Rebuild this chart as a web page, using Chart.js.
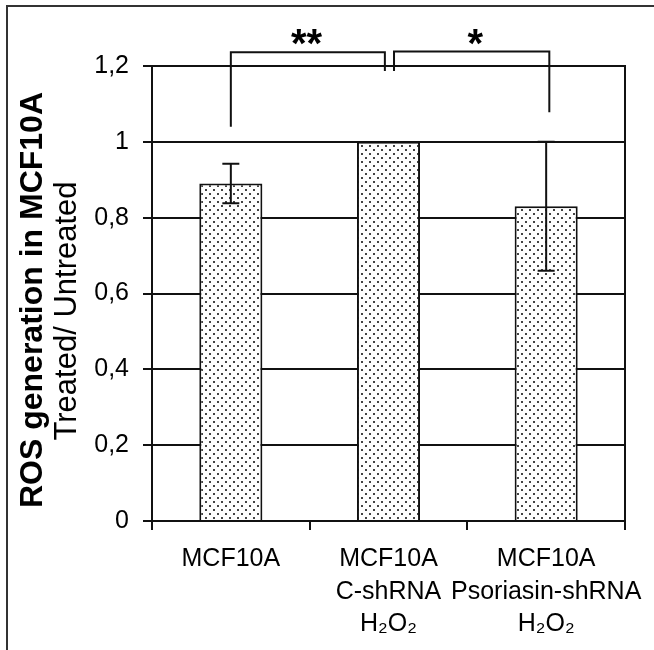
<!DOCTYPE html>
<html><head><meta charset="utf-8">
<script src="https://cdn.jsdelivr.net/npm/chart.js@4"></script>
<style>html,body{margin:0;padding:0;background:#fff}#wrap{width:654px;height:650px;position:relative}</style>
</head><body><div id="wrap"><canvas id="c" width="654" height="650"></canvas></div>
<script>
// ---- data ----
const categories = [["MCF10A"], ["MCF10A", "C-shRNA", "H\u2082O\u2082"], ["MCF10A", "Psoriasin-shRNA", "H\u2082O\u2082"]];
const values = [0.89, 1.0, 0.83];
const errors = [0.052, 0, 0.17];
const yTickLabels = ['0', '0,2', '0,4', '0,6', '0,8', '1', '1,2'];
const yTitle = 'ROS generation in MCF10A';
const ySubTitle = 'Treated/ Untreated';
// significance brackets (x in category index units, y in value units)
const bracketFrom = [0, 1.035];
const bracketTo = [0.977, 2.02];
const bracketTop = [1.236, 1.238];
const bracketLeftEnd = [1.04, 1.187];
const bracketRightEnd = [1.187, 1.078];
const bracketLabels = ['**', '*'];
const bracketLabelX = [0.48, 1.55];
const bracketLabelY = [1.282, 1.282];

const FONT = "'Liberation Sans', Arial, sans-serif";
const INK = '#111';

const canvas = document.getElementById('c');
const ctx0 = canvas.getContext('2d');
function makePattern() {
  const p = document.createElement('canvas');
  p.width = 8; p.height = 8;
  const g = p.getContext('2d');
  g.fillStyle = '#fff'; g.fillRect(0, 0, 8, 8);
  g.fillStyle = '#444';
  g.fillRect(1, 1, 2, 2); g.fillRect(5, 5, 2, 2);
  return ctx0.createPattern(p, 'repeat');
}
const dots = makePattern();

const framePlugin = {
  id: 'frame',
  beforeDraw(chart) {
    const c = chart.ctx;
    c.save();
    c.fillStyle = '#fff';
    c.fillRect(0, 0, chart.width, chart.height);
    c.strokeStyle = '#333';
    c.lineWidth = 2;
    c.strokeRect(7, 6, 800, 800);
    c.restore();
  }
};

const extrasPlugin = {
  id: 'extras',
  afterDatasetsDraw(chart) {
    const c = chart.ctx;
    const xs = chart.scales.x, ys = chart.scales.y;
    const meta = chart.getDatasetMeta(0);
    c.save();
    c.strokeStyle = INK;
    c.lineWidth = 2;
    // error bars
    meta.data.forEach((bar, i) => {
      if (!errors[i]) return;
      const x = bar.x;
      const yt = ys.getPixelForValue(values[i] + errors[i]);
      const yb = ys.getPixelForValue(values[i] - errors[i]);
      c.beginPath();
      c.moveTo(x, yt); c.lineTo(x, yb);
      c.moveTo(x - 8.5, yt); c.lineTo(x + 8.5, yt);
      c.moveTo(x - 8.5, yb); c.lineTo(x + 8.5, yb);
      c.stroke();
    });
    // right border
    const ca = chart.chartArea;
    c.beginPath();
    c.moveTo(ca.right, ca.top - 1); c.lineTo(ca.right, ca.bottom);
    c.stroke();
    // brackets
    for (let k = 0; k < bracketFrom.length; k++) {
      const x1 = xs.getPixelForValue(bracketFrom[k]);
      const x2 = xs.getPixelForValue(bracketTo[k]);
      const yt = ys.getPixelForValue(bracketTop[k]);
      const yl = ys.getPixelForValue(bracketLeftEnd[k]);
      const yr = ys.getPixelForValue(bracketRightEnd[k]);
      c.beginPath();
      c.moveTo(x1, yl); c.lineTo(x1, yt); c.lineTo(x2, yt); c.lineTo(x2, yr);
      c.stroke();
      c.fillStyle = '#000';
      c.font = 'bold 40px ' + FONT;
      c.textAlign = 'center';
      c.textBaseline = 'alphabetic';
      c.fillText(bracketLabels[k], xs.getPixelForValue(bracketLabelX[k]), ys.getPixelForValue(bracketLabelY[k]) + 22);
    }
    c.restore();
  },
  afterDraw(chart) {
    const c = chart.ctx;
    c.save();
    c.fillStyle = '#000';
    c.textAlign = 'center';
    c.textBaseline = 'alphabetic';
    c.translate(42, 300);
    c.rotate(-Math.PI / 2);
    c.font = 'bold 32px ' + FONT;
    c.fillText(yTitle, 0, 0);
    c.font = '31px ' + FONT;
    c.fillText(ySubTitle, -11, 34);
    c.restore();
  }
};

new Chart(canvas, {
  type: 'bar',
  data: {
    labels: categories,
    datasets: [{
      data: values,
      backgroundColor: dots,
      borderColor: INK,
      borderWidth: 2,
      borderSkipped: 'start',
      barPercentage: 0.4,
      categoryPercentage: 1
    }]
  },
  options: {
    responsive: false,
    animation: false,
    devicePixelRatio: 1,
    layout: { padding: { left: 0, top: 66, right: 29, bottom: 0 } },
    plugins: { legend: { display: false }, tooltip: { enabled: false } },
    scales: {
      x: {
        grid: { drawOnChartArea: false, drawTicks: true, tickLength: 9, color: INK, lineWidth: 2, offset: true },
        border: { color: INK, width: 2 },
        ticks: { font: { family: FONT, size: 25, lineHeight: 1.3 }, color: '#000', padding: 13, maxRotation: 0, autoSkip: false },
        afterFit(s) { s.height = 129; s.paddingLeft = 0; s.paddingRight = 0; }
      },
      y: {
        min: 0, max: 1.2,
        ticks: { stepSize: 0.2, callback: (v, i) => yTickLabels[i], font: { family: FONT, size: 25 }, color: '#000', padding: 14 },
        grid: { color: INK, lineWidth: 2, tickLength: 9 },
        border: { color: INK, width: 2 },
        afterFit(s) { s.width = 152; s.paddingTop = 0; s.paddingBottom = 0; }
      }
    }
  },
  plugins: [framePlugin, extrasPlugin]
});
</script></body></html>
